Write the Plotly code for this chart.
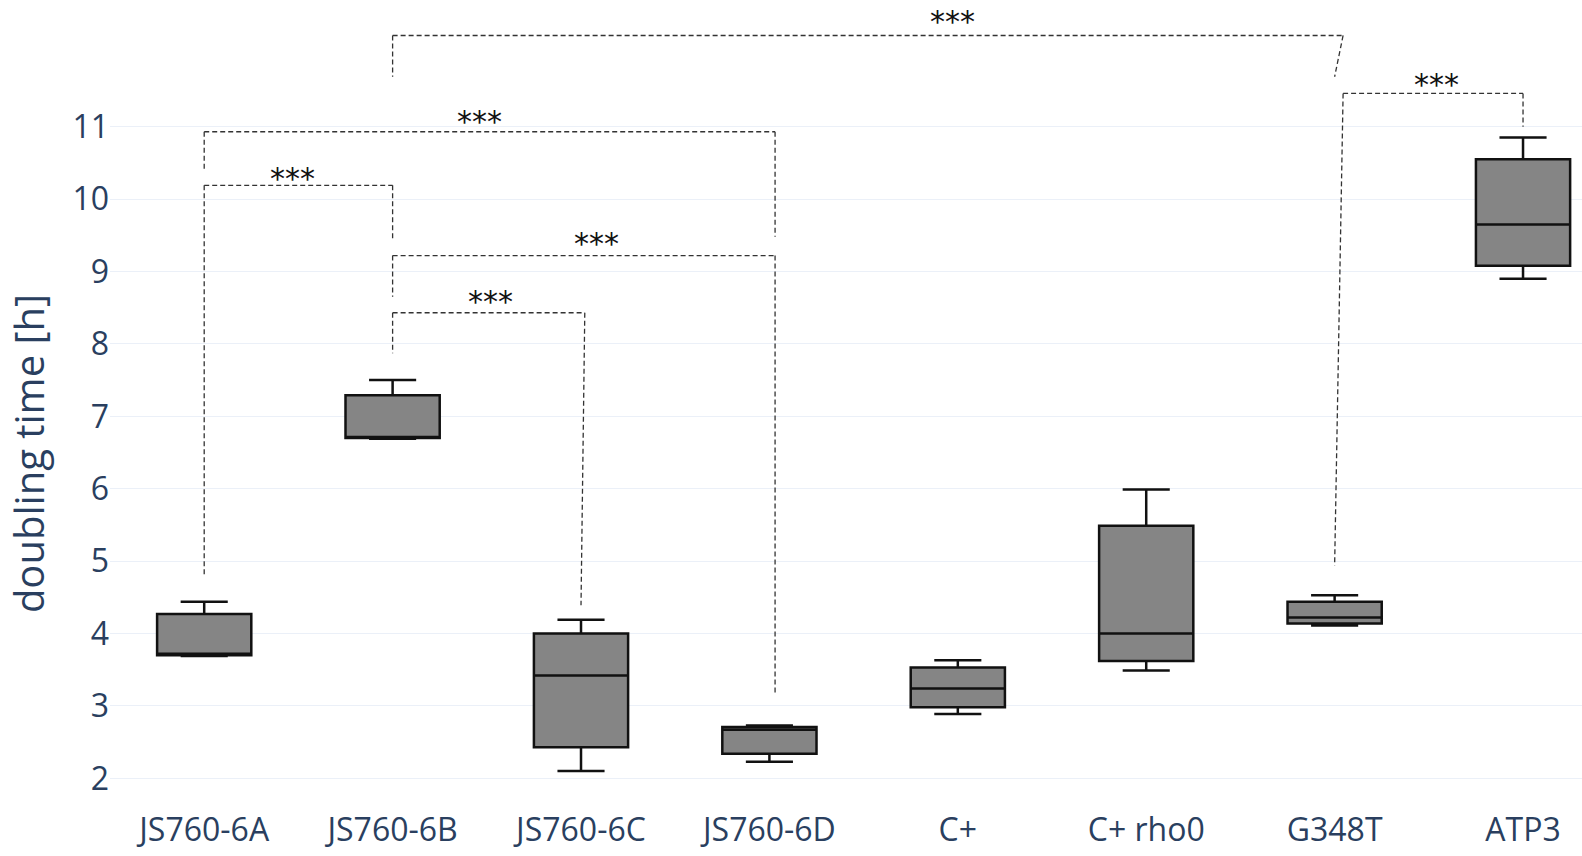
import plotly.graph_objects as go

# Strains on the x axis
strains = ["JS760-6A", "JS760-6B", "JS760-6C", "JS760-6D", "C+", "C+ rho0", "G348T", "ATP3"]

# Box statistics of the doubling time [h] per strain
lower_fence = [3.69, 6.69, 2.10, 2.23, 2.89, 3.49, 4.11, 8.90]
q1 = [3.70, 6.70, 2.43, 2.34, 2.98, 3.62, 4.14, 9.08]
median = [3.72, 6.71, 3.42, 2.67, 3.24, 4.00, 4.22, 9.65]
q3 = [4.27, 7.29, 4.00, 2.71, 3.53, 5.49, 4.44, 10.55]
upper_fence = [4.44, 7.50, 4.19, 2.73, 3.63, 5.99, 4.53, 10.85]

# Significance brackets: (left strain, right strain, bar height, left leg bottom,
# right leg bottom, label x, label y)
brackets = [
    ("JS760-6A", "JS760-6B", 10.19, 4.78, 9.46, 0.47, 10.29),
    ("JS760-6A", "JS760-6D", 10.93, 10.38, 9.48, 1.46, 11.07),
    ("JS760-6B", "JS760-6D", 9.22, 8.65, 3.15, 2.08, 9.39),
    ("JS760-6B", "JS760-6C", 8.43, 7.87, 4.39, 1.52, 8.58),
    ("JS760-6B", "G348T", 12.26, 11.69, 11.69, 3.97, 12.45),
    ("G348T", "ATP3", 11.46, 4.94, 11.00, 6.54, 11.58),
]
# Small sideways nudge of a leg's ends (strain -> (top nudge, bottom nudge))
leg_nudge = {"JS760-6D": (0.03, 0.03), "G348T": (0.045, 0.0), "JS760-6C": (0.02, 0.0)}
stars = "***"

fig = go.Figure()
fig.add_trace(go.Box(
    x=strains,
    lowerfence=lower_fence,
    q1=q1,
    median=median,
    q3=q3,
    upperfence=upper_fence,
    fillcolor="#858585",
    line=dict(color="#111111", width=2.5),
    whiskerwidth=0.5,
    showlegend=False,
    hoverinfo="skip",
))

dash_line = dict(color="#333333", width=1.3, dash="5px,3px")
for left, right, top, lbot, rbot, tx, ty in brackets:
    li, ri = strains.index(left), strains.index(right)
    lt, lb = leg_nudge.get(left, (0, 0))
    rt, rb = leg_nudge.get(right, (0, 0))
    fig.add_shape(type="line", x0=li + lt, x1=ri + rt, y0=top, y1=top, line=dash_line)
    fig.add_shape(type="line", x0=li + lt, x1=li + lb, y0=top, y1=lbot, line=dash_line)
    fig.add_shape(type="line", x0=ri + rt, x1=ri + rb, y0=top, y1=rbot, line=dash_line)
    fig.add_annotation(x=tx, y=ty, text=stars, showarrow=False,
                       font=dict(size=30, color="#111111", family="DejaVu Sans"),
                       xanchor="center", yanchor="middle")

# Axis title placed beside the tick labels
fig.add_annotation(x=-0.0557, y=0.438, xref="paper", yref="paper",
                   text="doubling time [h]", textangle=-90, showarrow=False,
                   font=dict(size=40, color="#2a3f5f", family="Open Sans"),
                   xanchor="center", yanchor="middle")

fig.update_layout(
    template="plotly_white",
    width=1582,
    height=856,
    margin=dict(l=110, r=0, t=0, b=48),
    boxgap=0.5,
    boxgroupgap=0,
    font=dict(family="Open Sans", color="#2a3f5f"),
    plot_bgcolor="white",
    paper_bgcolor="white",
)
fig.update_xaxes(
    type="category",
    range=[-0.5, 7.313],
    showgrid=False,
    tickfont=dict(size=32),
)
fig.update_yaxes(
    range=[1.59, 12.75],
    tickvals=[2, 3, 4, 5, 6, 7, 8, 9, 10, 11],
    tickfont=dict(size=32),
    gridcolor="#EBF0F8",
    zeroline=False,
)

fig.write_html("out.html")
